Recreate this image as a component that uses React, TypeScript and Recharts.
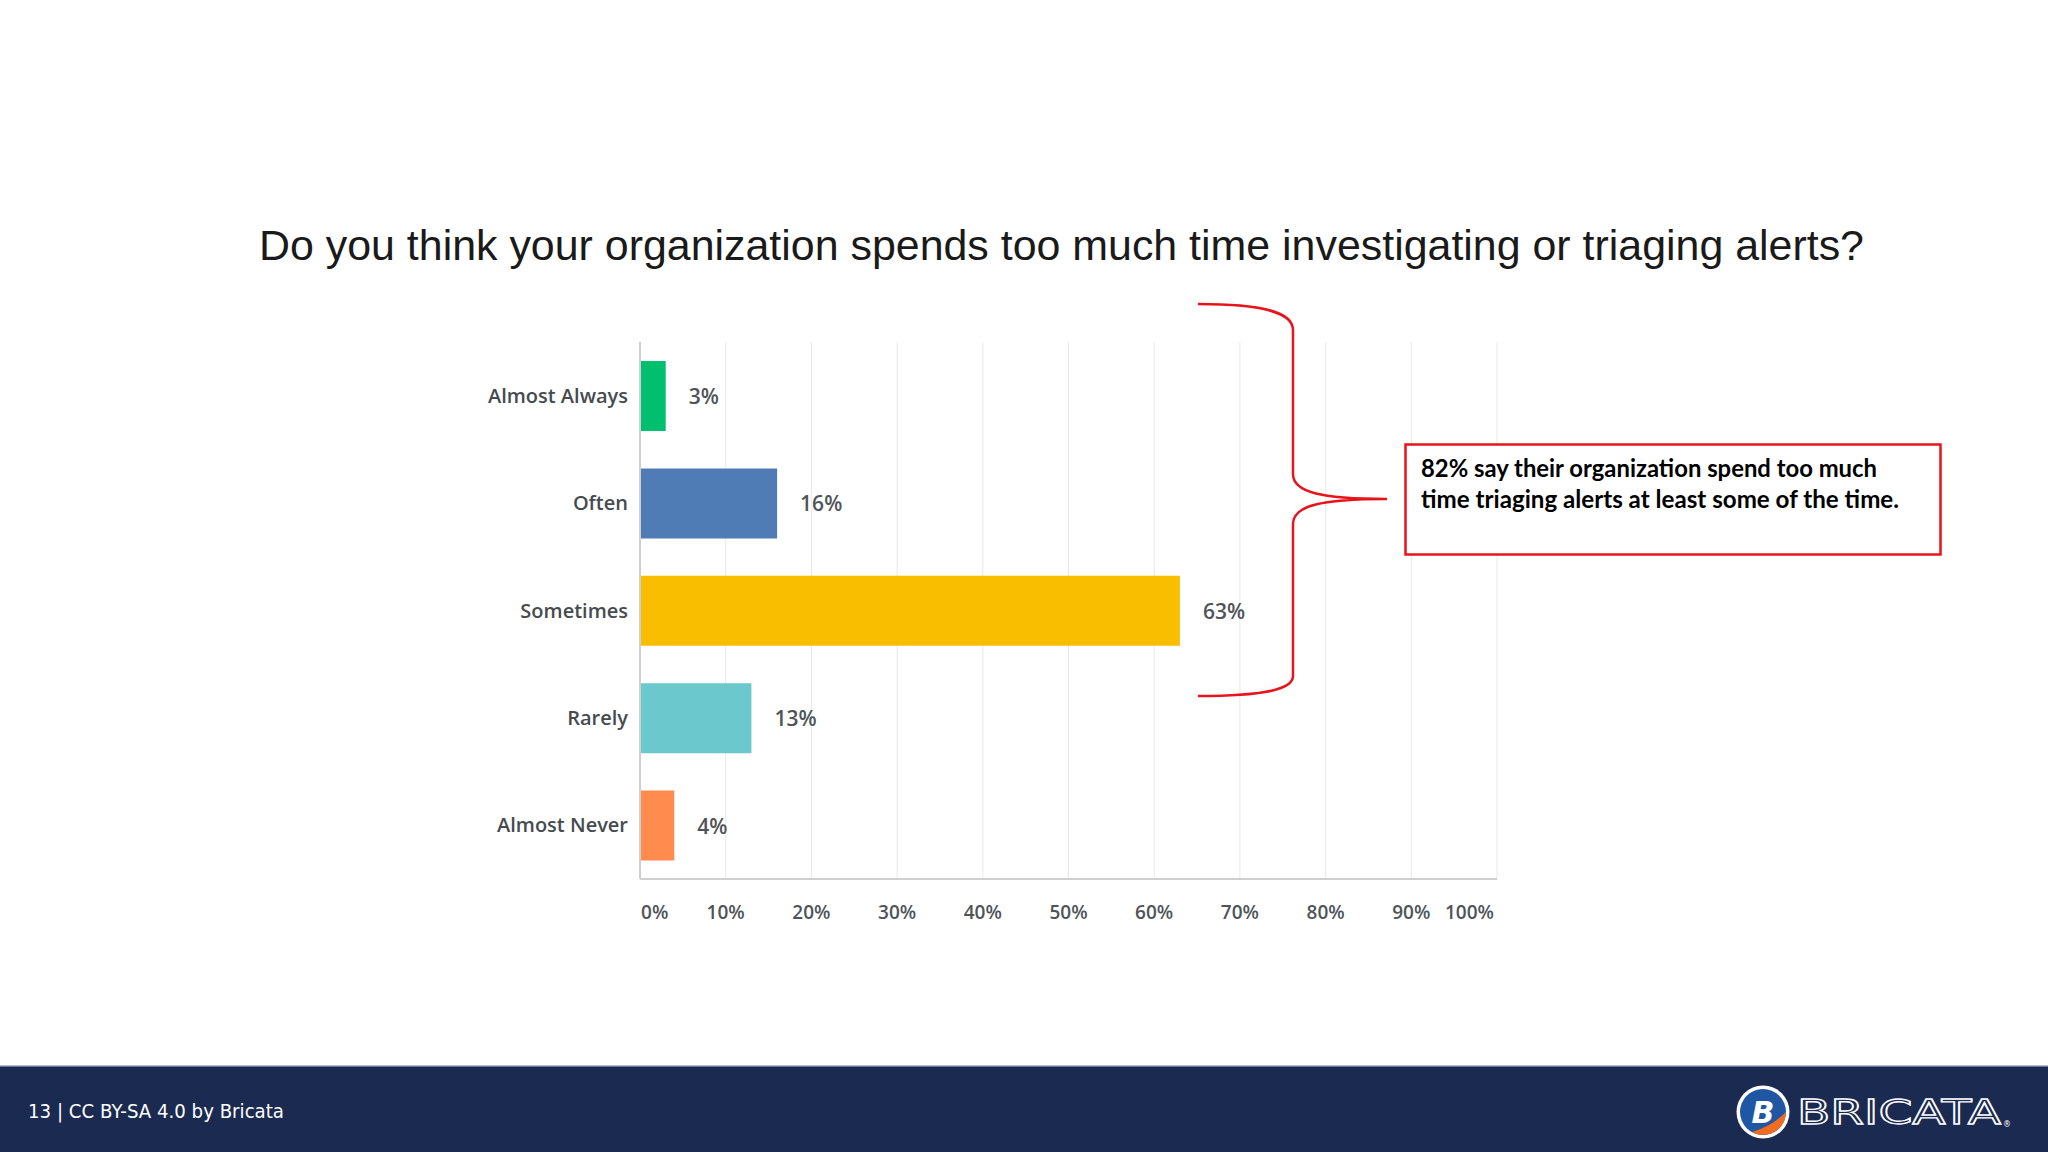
import { BarChart, Bar, XAxis, YAxis, CartesianGrid, Cell, LabelList } from "recharts";

const categories = ["Almost Always", "Often", "Sometimes", "Rarely", "Almost Never"];
const shares = [3, 16, 63, 13, 4];
const barColors = ["#00bf6f", "#507cb6", "#f9be00", "#6bc8cd", "#ff8b4f"];
const xTicks = [0, 10, 20, 30, 40, 50, 60, 70, 80, 90, 100];

const title = "Do you think your organization spends too much time investigating or triaging alerts?";
const calloutLines = [
  "82% say their organization spend too much",
  "time triaging alerts at least some of the time.",
];
const footerText = "13 | CC BY-SA 4.0 by Bricata";

const data = categories.map((label, i) => ({ label, value: shares[i] }));

const LABEL_FONT = "'Open Sans', sans-serif";

function XTick(props: any) {
  const { x, y, payload } = props;
  const v = payload.value as number;
  const anchor = v === 0 ? "start" : v === 100 ? "end" : "middle";
  return (
    <text
      x={v === 0 ? x + 1 : v === 100 ? x - 3 : x}
      y={y + 33}
      textAnchor={anchor}
      dominantBaseline="central"
      fontFamily={LABEL_FONT}
      fontSize={19}
      fontWeight={600}
      fill="#4f5459"
    >
      {v}%
    </text>
  );
}

function ValueLabel(props: any) {
  const { x, y, width, height, value } = props;
  return (
    <text
      x={x + width + 23}
      y={y + height / 2}
      dominantBaseline="central"
      fontFamily={LABEL_FONT}
      fontSize={21}
      fontWeight={600}
      fill="#4f5459"
    >
      {value}%
    </text>
  );
}

function Logo() {
  return (
    <g>
      <circle cx={1763} cy={1112} r={26.5} fill="#ffffff" />
      <circle cx={1763} cy={1112} r={23} fill="#1f57a4" />
      <path d="M1786 1112 A23 23 0 0 1 1752 1132 Q1772 1126 1786 1112 Z" fill="#f26b21" />
      <text
        x={1763}
        y={1123}
        textAnchor="middle"
        fontFamily="'DejaVu Sans', sans-serif"
        fontSize={30}
        fontStyle="italic"
        fontWeight={700}
        fill="#ffffff"
      >
        B
      </text>
      <text
        x={1797}
        y={1124}
        textLength={204}
        lengthAdjust="spacingAndGlyphs"
        fontFamily="'DejaVu Sans', sans-serif"
        fontSize={33}
        fill="none"
        stroke="#ffffff"
        strokeWidth={1.3}
      >
        BRICATA
      </text>
      <text x={2003} y={1127} fontSize={8} fill="#ffffff" fontFamily="'DejaVu Sans', sans-serif">
        ®
      </text>
    </g>
  );
}

export default function App() {
  return (
    <div
      style={{
        position: "absolute",
        left: 0,
        top: 0,
        width: 2048,
        height: 1152,
        background: "#ffffff",
        overflow: "hidden",
      }}
    >
      <div style={{ position: "absolute", left: 0, top: 0 }}>
        <BarChart
          width={2048}
          height={1152}
          data={data}
          layout="vertical"
          margin={{ top: 342, right: 551, bottom: 213, left: 400 }}
        >
          <CartesianGrid horizontal={false} stroke="#e8e8e8" />
          <XAxis
            type="number"
            domain={[0, 100]}
            ticks={xTicks}
            height={60}
            tickLine={false}
            tickSize={0}
            tickMargin={0}
            axisLine={{ stroke: "#cfcfcf", strokeWidth: 2 }}
            tick={<XTick />}
            interval={0}
          />
          <YAxis
            type="category"
            dataKey="label"
            width={240}
            tickLine={false}
            tickMargin={6}
            axisLine={{ stroke: "#cfcfcf", strokeWidth: 2 }}
            tick={{ fontFamily: LABEL_FONT, fontSize: 20, fontWeight: 600, fill: "#464b50" }}
          />
          <Bar dataKey="value" barSize={70} isAnimationActive={false}>
            {data.map((d, i) => (
              <Cell key={d.label} fill={barColors[i]} />
            ))}
            <LabelList dataKey="value" content={<ValueLabel />} />
          </Bar>
        </BarChart>
      </div>

      <svg
        width={2048}
        height={1152}
        style={{ position: "absolute", left: 0, top: 0, pointerEvents: "none" }}
      >
        <text
          x={259}
          y={260}
          textLength={1605}
          lengthAdjust="spacingAndGlyphs"
          fontFamily="'Liberation Sans', Arial, sans-serif"
          fontSize={43}
          fill="#1a1a1a"
        >
          {title}
        </text>

        {/* brace around the first three answers */}
        <path
          d="M1198 304 C1262 304 1293 312 1293 330 L1293 474 C1293 492 1320 499 1387 499 C1320 499 1293 506 1293 524 L1293 676 C1293 690 1262 696 1198 696"
          fill="none"
          stroke="#e8141c"
          strokeWidth={2.5}
        />

        <rect x={1405.5} y={444.5} width={535} height={110} fill="#ffffff" stroke="#e8141c" strokeWidth={2.5} />
        {calloutLines.map((line, i) => (
          <text
            key={i}
            x={1421}
            y={477 + i * 31}
            textLength={i === 0 ? 456 : 478}
            lengthAdjust="spacingAndGlyphs"
            fontFamily="Lato, 'Open Sans', sans-serif"
            fontSize={24}
            fontWeight={700}
            fill="#000000"
          >
            {line}
          </text>
        ))}

        <rect x={0} y={1066} width={2048} height={86} fill="#1b2a50" />
        <rect x={0} y={1065} width={2048} height={1.5} fill="#b9c0d2" />
        <text
          x={28}
          y={1118}
          textLength={256}
          lengthAdjust="spacingAndGlyphs"
          fontFamily="'DejaVu Sans', sans-serif"
          fontSize={19}
          fill="#ffffff"
        >
          {footerText}
        </text>
        <Logo />
      </svg>
    </div>
  );
}
